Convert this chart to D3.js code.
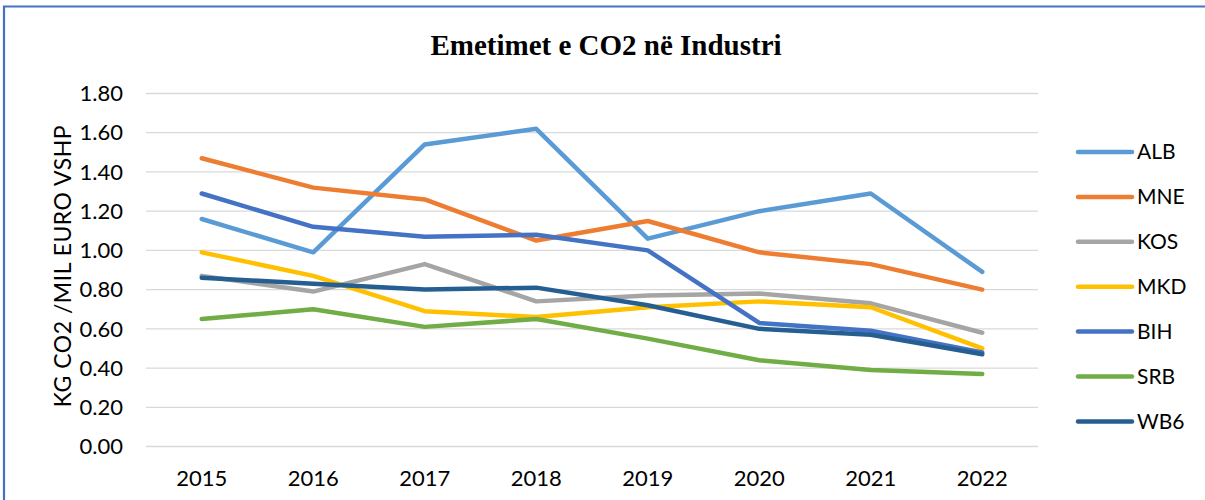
<!DOCTYPE html>
<html>
<head>
<meta charset="utf-8">
<script src="https://cdn.jsdelivr.net/npm/d3@7"></script>
<style>
  body { margin: 0; background: #fff; }
  svg { display: block; }
</style>
</head>
<body>
<div id="chart"></div>
<script>
const years = ["2015", "2016", "2017", "2018", "2019", "2020", "2021", "2022"];
const yTicks = [0, 0.2, 0.4, 0.6, 0.8, 1.0, 1.2, 1.4, 1.6, 1.8];

const alb = [1.16, 0.99, 1.54, 1.62, 1.06, 1.20, 1.29, 0.89];
const mne = [1.47, 1.32, 1.26, 1.05, 1.15, 0.99, 0.93, 0.80];
const kos = [0.87, 0.79, 0.93, 0.74, 0.77, 0.78, 0.73, 0.58];
const mkd = [0.99, 0.87, 0.69, 0.66, 0.71, 0.74, 0.71, 0.50];
const bih = [1.29, 1.12, 1.07, 1.08, 1.00, 0.63, 0.59, 0.48];
const srb = [0.65, 0.70, 0.61, 0.65, 0.55, 0.44, 0.39, 0.37];
const wb6 = [0.86, 0.83, 0.80, 0.81, 0.72, 0.60, 0.57, 0.47];

const names = ["ALB", "MNE", "KOS", "MKD", "BIH", "SRB", "WB6"];
const colors = ["#5B9BD5", "#ED7D31", "#A5A5A5", "#FFC000", "#4472C4", "#70AD47", "#255E91"];

const W = 1205, H = 500;
const margin = {top: 93.5, right: 167, bottom: 53.5, left: 146};

const series = [alb, mne, kos, mkd, bih, srb, wb6].map((vals, i) => ({
    name: names[i],
    color: colors[i],
    values: vals
}));

const svg = d3.select("#chart").append("svg")
    .attr("width", W)
    .attr("height", H);

// frame
svg.append("path")
    .attr("d", `M4,${H} V6.5 H${W}`)
    .attr("fill", "none")
    .attr("stroke", "#4472C4")
    .attr("stroke-width", 2.2);

const x = d3.scalePoint()
    .domain(years)
    .range([margin.left, W - margin.right])
    .padding(0.5);

const y = d3.scaleLinear()
    .domain([0, 1.8])
    .range([H - margin.bottom, margin.top]);

const font = "Lato, 'Open Sans', sans-serif";

// gridlines
svg.append("g")
    .selectAll("line")
    .data(yTicks)
    .join("line")
        .attr("x1", margin.left)
        .attr("x2", W - margin.right)
        .attr("y1", d => y(d))
        .attr("y2", d => y(d))
        .attr("stroke", "#D9D9D9")
        .attr("stroke-width", 1.3);

// y tick labels
svg.append("g")
    .selectAll("text")
    .data(yTicks)
    .join("text")
        .attr("x", 123)
        .attr("y", d => y(d))
        .attr("dy", "0.35em")
        .attr("text-anchor", "end")
        .style("font-family", font)
        .style("font-size", "22px")
        .attr("fill", "#000")
        .text(d => d3.format(".2f")(d));

// x tick labels
svg.append("g")
    .selectAll("text")
    .data(years)
    .join("text")
        .attr("x", d => x(d))
        .attr("y", 486)
        .attr("text-anchor", "middle")
        .style("font-family", font)
        .style("font-size", "22px")
        .attr("fill", "#000")
        .text(d => d);

// y axis title
svg.append("text")
    .attr("transform", `translate(71,${(margin.top + H - margin.bottom) / 2 - 4}) rotate(-90)`)
    .attr("text-anchor", "middle")
    .style("font-family", font)
    .style("font-size", "23px")
    .style("letter-spacing", "0.5px")
    .attr("fill", "#000")
    .text("KG CO2 /MIL EURO VSHP");

// title
svg.append("text")
    .attr("x", 606)
    .attr("y", 55)
    .attr("text-anchor", "middle")
    .style("font-family", "'Liberation Serif', 'Times New Roman', serif")
    .style("font-weight", "bold")
    .style("font-size", "29px")
    .attr("fill", "#000")
    .text("Emetimet e CO2 në Industri");

// lines
const line = d3.line()
    .x((d, i) => x(years[i]))
    .y(d => y(d));

svg.append("g")
    .selectAll("path")
    .data(series)
    .join("path")
        .attr("d", d => line(d.values))
        .attr("fill", "none")
        .attr("stroke", d => d.color)
        .attr("stroke-width", 4.5)
        .attr("stroke-linejoin", "round")
        .attr("stroke-linecap", "round");

// legend
const legend = svg.append("g")
    .selectAll("g")
    .data(series)
    .join("g")
        .attr("transform", (d, i) => `translate(0,${152 + i * 44.9})`);

legend.append("line")
    .attr("x1", 1078)
    .attr("x2", 1132)
    .attr("stroke", d => d.color)
    .attr("stroke-width", 4.5)
    .attr("stroke-linecap", "round");

legend.append("text")
    .attr("x", 1137)
    .attr("dy", "0.35em")
    .style("font-family", font)
    .style("font-size", "21px")
    .attr("fill", "#000")
    .text(d => d.name);
</script>
</body>
</html>
